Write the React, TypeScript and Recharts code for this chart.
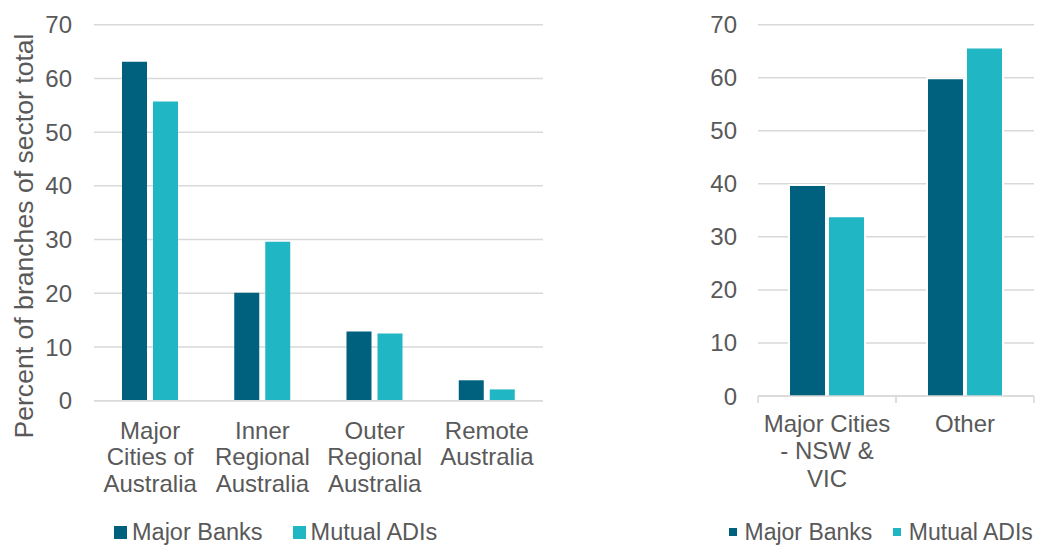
import React from 'react';
import { BarChart, Bar, XAxis, YAxis, CartesianGrid, Label } from 'recharts';

// values (percent of branches of sector total)
const regionCategories = ['Major\nCities of\nAustralia', 'Inner\nRegional\nAustralia', 'Outer\nRegional\nAustralia', 'Remote\nAustralia'];
const regionMajorBanks = [63.1, 20.1, 12.9, 3.8];
const regionMutualADIs = [55.7, 29.6, 12.5, 2.1];

const cityCategories = ['Major Cities\n- NSW &\nVIC', 'Other'];
const cityMajorBanks = [39.6, 59.7];
const cityMutualADIs = [33.7, 65.5];

const yTicks = [0, 10, 20, 30, 40, 50, 60, 70];
const seriesNames = ['Major Banks', 'Mutual ADIs'];
const seriesColors = ['#00617F', '#21B6C3'];

const FONT = '"Liberation Sans", Arial, sans-serif';
const TEXT = '#595959';
const GRID = '#D9D9D9';

const regionData = regionCategories.map((name, i) => ({
  name,
  majorBanks: regionMajorBanks[i],
  mutualADIs: regionMutualADIs[i],
}));

const cityData = cityCategories.map((name, i) => ({
  name,
  majorBanks: cityMajorBanks[i],
  mutualADIs: cityMutualADIs[i],
}));

const CategoryTick = (props: any) => {
  const { x, y, payload, firstDy, lineHeight, edgeTicks, edgeTickSize, width, visibleTicksCount } = props;
  const lines = String(payload.value).split('\n');
  const half = width / visibleTicksCount / 2;
  return (
    <g>
      {edgeTicks && (
        <>
          <line x1={x - half} x2={x - half} y1={y - edgeTickSize} y2={y} stroke={GRID} strokeWidth={1.5} />
          <line x1={x + half} x2={x + half} y1={y - edgeTickSize} y2={y} stroke={GRID} strokeWidth={1.5} />
        </>
      )}
      <text x={x} y={y} textAnchor="middle" fill={TEXT} fontSize={24} fontFamily={FONT}>
        {lines.map((l, i) => (
          <tspan key={i} x={x} dy={i === 0 ? firstDy : lineHeight}>
            {l}
          </tspan>
        ))}
      </text>
    </g>
  );
};

const LegendRow = ({ left, top, square, gapText, gapItem, fontSize }: any) => (
  <div
    style={{
      position: 'absolute',
      left,
      top,
      display: 'flex',
      alignItems: 'center',
      fontFamily: FONT,
      fontSize,
      color: TEXT,
      whiteSpace: 'nowrap',
      lineHeight: '26px',
    }}
  >
    {seriesNames.map((n, i) => (
      <div key={n} style={{ display: 'flex', alignItems: 'center', marginRight: i === 0 ? gapItem : 0 }}>
        <div style={{ width: square, height: square, background: seriesColors[i], marginRight: gapText }} />
        <span>{n}</span>
      </div>
    ))}
  </div>
);

const App: React.FC = () => {
  return (
    <div style={{ position: 'absolute', left: 0, top: 0, width: 1038, height: 546, background: '#fff', fontFamily: FONT, overflow: 'hidden' }}>
      <div style={{ position: 'absolute', left: 0, top: 0 }}>
        <BarChart
          width={560}
          height={546}
          data={regionData}
          margin={{ top: 24.7, right: 17, left: 0, bottom: 45.3 }}
          barSize={25}
          barGap={6}
        >
          <CartesianGrid vertical={false} stroke={GRID} strokeWidth={1.5} />
          <YAxis
            width={94}
            domain={[0, 70]}
            ticks={yTicks}
            interval={0}
            axisLine={false}
            tickLine={false}
            tickSize={0}
            tickMargin={22}
            tick={{ fill: TEXT, fontSize: 24, fontFamily: FONT }}
          >
            <Label
              content={() => (
                <text
                  x={33}
                  y={236}
                  transform="rotate(-90, 33, 236)"
                  textAnchor="middle"
                  fill={TEXT}
                  fontSize={26.6}
                  fontFamily={FONT}
                >
                  Percent of branches of sector total
                </text>
              )}
            />
          </YAxis>
          <Bar dataKey="majorBanks" name={seriesNames[0]} fill={seriesColors[0]} isAnimationActive={false} />
          <Bar dataKey="mutualADIs" name={seriesNames[1]} fill={seriesColors[1]} isAnimationActive={false} />
          <XAxis
            dataKey="name"
            height={100}
            interval={0}
            axisLine={{ stroke: GRID, strokeWidth: 1.5 }}
            tickLine={false}
            tickSize={0}
            tickMargin={0}
            tick={<CategoryTick firstDy={37.8} lineHeight={26.5} />}
          />
        </BarChart>
        <LegendRow left={114} top={519} square={13} gapText={5} gapItem={30} fontSize={23.5} />
      </div>

      <div style={{ position: 'absolute', left: 640, top: 0 }}>
        <BarChart
          width={398}
          height={546}
          data={cityData}
          margin={{ top: 24.7, right: 4, left: 0, bottom: 50 }}
          barSize={35}
          barGap={4}
        >
          <CartesianGrid vertical={false} stroke={GRID} strokeWidth={1.5} />
          <YAxis
            width={118}
            domain={[0, 70]}
            ticks={yTicks}
            interval={0}
            axisLine={false}
            tickLine={false}
            tickSize={0}
            tickMargin={21}
            tick={{ fill: TEXT, fontSize: 24, fontFamily: FONT }}
          />
          <Bar
            dataKey="majorBanks"
            name={seriesNames[0]}
            fill={seriesColors[0]}
            stroke="#fff"
            strokeWidth={4}
            paintOrder="stroke"
            isAnimationActive={false}
          />
          <Bar
            dataKey="mutualADIs"
            name={seriesNames[1]}
            fill={seriesColors[1]}
            stroke="#fff"
            strokeWidth={4}
            paintOrder="stroke"
            isAnimationActive={false}
          />
          <XAxis
            dataKey="name"
            height={100}
            interval={0}
            axisLine={{ stroke: GRID, strokeWidth: 1.5 }}
            tickLine={false}
            tickSize={7}
            tickMargin={0}
            tick={<CategoryTick firstDy={28.5} lineHeight={27.5} edgeTicks edgeTickSize={7} />}
          />
        </BarChart>
        <LegendRow left={89} top={519} square={8} gapText={7.5} gapItem={21} fontSize={23} />
      </div>
    </div>
  );
};

export default App;
